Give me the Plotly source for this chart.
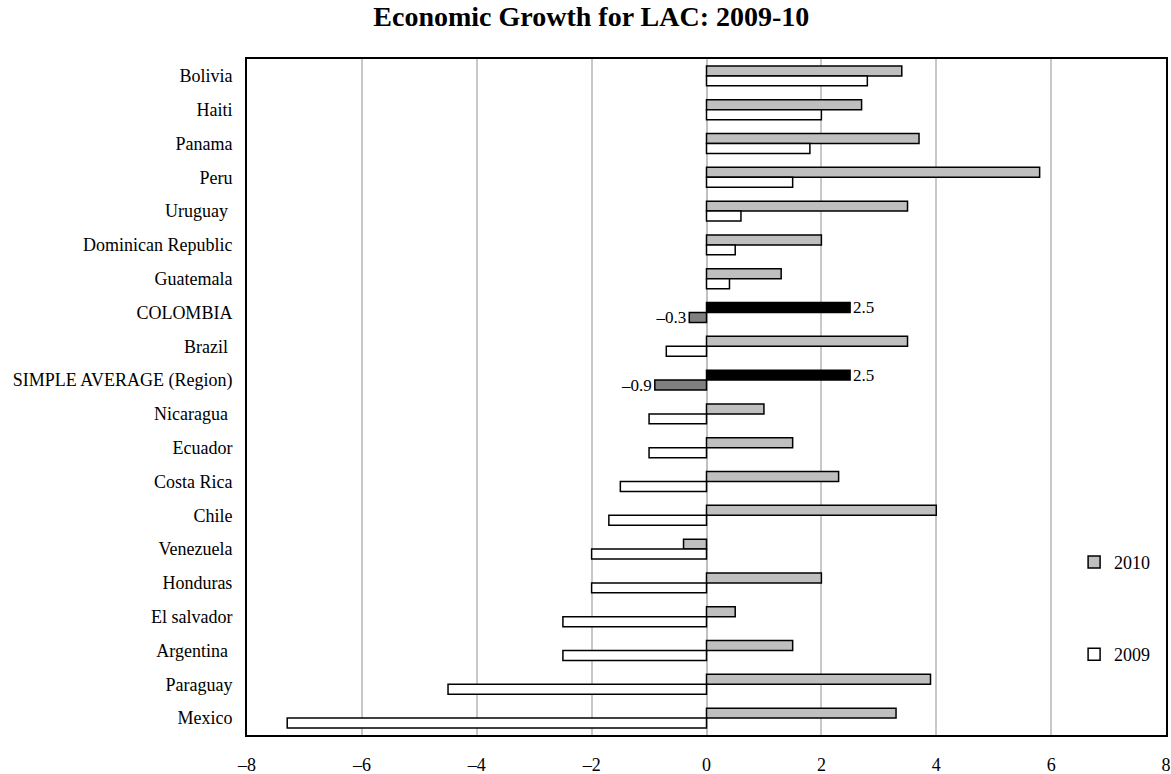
import plotly.graph_objects as go

countries = ["Bolivia", "Haiti", "Panama", "Peru", "Uruguay ", "Dominican Republic",
             "Guatemala", "COLOMBIA", "Brazil ", "SIMPLE AVERAGE (Region)", "Nicaragua ",
             "Ecuador", "Costa Rica", "Chile", "Venezuela", "Honduras", "El salvador",
             "Argentina ", "Paraguay", "Mexico"]
growth_2010 = [3.4, 2.7, 3.7, 5.8, 3.5, 2.0, 1.3, 2.5, 3.5, 2.5, 1.0, 1.5, 2.3, 4.0,
               -0.4, 2.0, 0.5, 1.5, 3.9, 3.3]
growth_2009 = [2.8, 2.0, 1.8, 1.5, 0.6, 0.5, 0.4, -0.3, -0.7, -0.9, -1.0, -1.0, -1.5,
               -1.7, -2.0, -2.0, -2.5, -2.5, -4.5, -7.3]
highlight = ["COLOMBIA", "SIMPLE AVERAGE (Region)"]
x_ticks = [-8, -6, -4, -2, 0, 2, 4, 6, 8]
x_tick_labels = ["–8", "–6", "–4", "–2", "0", "2", "4", "6", "8"]

FONT = "Liberation Serif, Times New Roman, serif"

c2010 = ["#000000" if c in highlight else "#BFBFBF" for c in countries]
c2009 = ["#808080" if c in highlight else "#FFFFFF" for c in countries]
t2010 = [f"{v:.1f}" if c in highlight else "" for c, v in zip(countries, growth_2010)]
t2009 = [f"{v:.1f}".replace("-", "–") if c in highlight else "" for c, v in zip(countries, growth_2009)]

fig = go.Figure()
fig.add_trace(go.Bar(
    y=countries, x=growth_2010, orientation="h", name="2010",
    marker=dict(color=c2010, line=dict(color="#000000", width=1.5)),
    text=t2010, textposition="outside", cliponaxis=False, constraintext="none",
    textfont=dict(family=FONT, size=17, color="black"),
    legendgroup="a",
))
fig.add_trace(go.Bar(
    y=countries, x=growth_2009, orientation="h", name="2009",
    marker=dict(color=c2009, line=dict(color="#000000", width=1.5)),
    text=t2009, textposition="outside", cliponaxis=False, constraintext="none",
    textfont=dict(family=FONT, size=17, color="black"),
    legendgroup="b",
))
fig.update_layout(
    width=1171, height=774,
    margin=dict(l=247, r=5, t=59, b=39),
    paper_bgcolor="white", plot_bgcolor="white",
    barmode="group", bargap=0.41, bargroupgap=0.0,
    title=dict(text="<b>Economic Growth for LAC: 2009-10</b>", x=0.505, xanchor="center",
               y=0.979, yanchor="middle",
               font=dict(family=FONT, size=28, color="black")),
    font=dict(family=FONT, size=18, color="black"),
    xaxis=dict(range=[-8, 8], tickvals=x_ticks, ticktext=x_tick_labels,
               automargin=False,
               showgrid=True, gridcolor="#C8C8C8",
               gridwidth=1.5, zeroline=True, zerolinecolor="#C0C0C0", zerolinewidth=1.5,
               showline=True, mirror=True, linecolor="black", linewidth=2,
               ticks="outside", ticklen=12, tickcolor="rgba(0,0,0,0)",
               tickfont=dict(family=FONT, size=18, color="black")),
    yaxis=dict(autorange="reversed", showgrid=False, showline=True, mirror=True,
               automargin=False,
               linecolor="black", linewidth=2, ticks="outside", ticklen=9,
               tickcolor="rgba(0,0,0,0)",
               tickfont=dict(family=FONT, size=18, color="black")),
    showlegend=True,
    legend=dict(x=0.9, xanchor="left", y=0.283, yanchor="top",
                traceorder="grouped", tracegroupgap=66, bgcolor="rgba(0,0,0,0)",
                font=dict(family=FONT, size=18, color="black"), itemwidth=30),
)
fig.write_html("out.html")
